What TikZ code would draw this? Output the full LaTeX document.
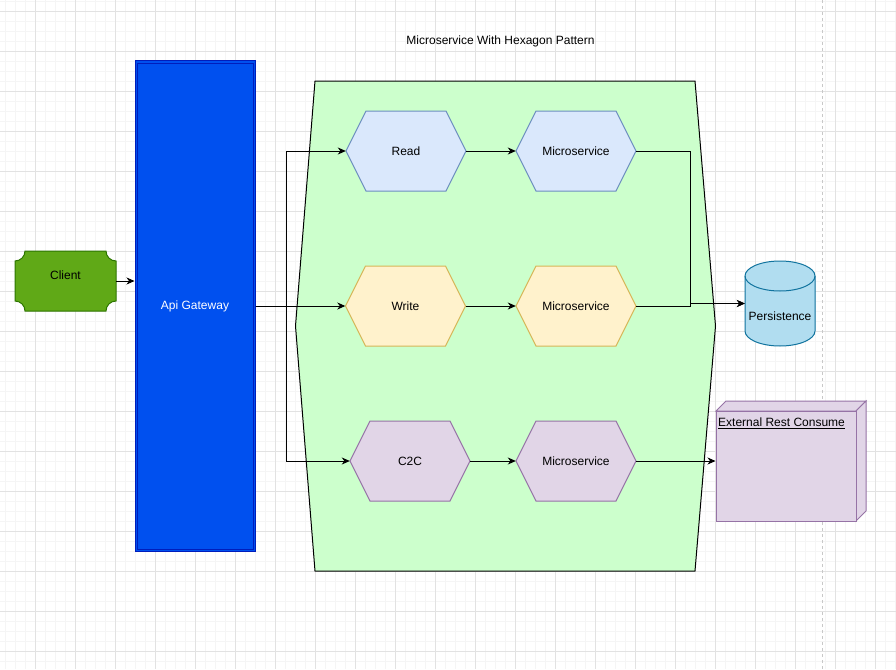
\documentclass[tikz,border=0pt]{standalone}
\usepackage{fontspec}
\setmainfont{Liberation Sans}
\usetikzlibrary{arrows.meta}
\definecolor{gridminor}{HTML}{F5F5F5}
\definecolor{gridmajor}{HTML}{E2E2E2}
\definecolor{pageline}{HTML}{C8C8C8}
\definecolor{clientfill}{HTML}{60A917}
\definecolor{clientdraw}{HTML}{2D7600}
\definecolor{apifill}{HTML}{0050EF}
\definecolor{apidraw}{HTML}{001DBC}
\definecolor{hexfill}{HTML}{CCFFCC}
\definecolor{bluefill}{HTML}{DAE8FC}
\definecolor{bluedraw}{HTML}{6C8EBF}
\definecolor{yellowfill}{HTML}{FFF2CC}
\definecolor{yellowdraw}{HTML}{D6B656}
\definecolor{purplefill}{HTML}{E1D5E7}
\definecolor{purpledraw}{HTML}{9673A6}
\definecolor{persfill}{HTML}{B1DDF0}
\definecolor{persdraw}{HTML}{10739E}
\newcommand\hexnode[6]{%
  \filldraw[fill=#4,draw=#5,line width=1pt] ({#2-60},#3) -- ({#2-40},{#3-40}) -- ({#2+40},{#3-40}) -- ({#2+60},#3) -- ({#2+40},{#3+40}) -- ({#2-40},{#3+40}) -- cycle;
  \node[hexbox] (#1) at (#2,#3) {#6};}
\begin{document}
\begin{tikzpicture}[x=1pt,y=-1pt,
  every node/.style={font=\fontsize{12}{14}\selectfont},
  minorline/.style={draw=gridminor,line width=1pt},
  majorline/.style={draw=gridmajor,line width=1pt},
  hexbox/.style={inner sep=0pt,minimum width=120pt,minimum height=80pt},
  conn/.style={draw=black,line width=1pt,-{Stealth[length=8pt,width=7pt,inset=2.5pt]}},
  plain/.style={draw=black,line width=1pt}]
\useasboundingbox (0,0) rectangle (896,669);
\fill[white] (0,0) rectangle (896,669);
% grid
\foreach \gx in {5.3,15.3,...,895.3} \draw[minorline] (\gx,0) -- (\gx,669);
\foreach \gy in {1.7,11.7,...,668} \draw[minorline] (0,\gy) -- (896,\gy);
\foreach \gx in {35.3,75.3,...,895.3} \draw[majorline] (\gx,0) -- (\gx,669);
\foreach \gy in {11.7,51.7,...,668} \draw[majorline] (0,\gy) -- (896,\gy);
\draw[pageline,line width=1pt,dash pattern=on 3pt off 3pt] (822,0) -- (822,669);

% title
\node (title) at (500.5,41) {Microservice With Hexagon Pattern};

% client plaque
\filldraw[fill=clientfill,draw=clientdraw,line width=1pt]
  (25,251) -- (106,251) arc[start angle=180,end angle=90,radius=10]
  -- (116,301) arc[start angle=270,end angle=180,radius=10]
  -- (25,311) arc[start angle=0,end angle=-90,radius=10]
  -- (15,261) arc[start angle=90,end angle=0,radius=10] -- cycle;
\node[inner sep=0pt,minimum width=101pt,minimum height=60pt,text depth=12pt] (client) at (65.5,281) {Client};

% api gateway
\node[fill=apifill,draw=apidraw,line width=1pt,inner sep=0pt,minimum width=120pt,minimum height=490pt,text=white] (api) at (195,306) {Api Gateway};
\draw[apidraw,line width=0.8pt] ([shift={(2.5pt,-2.5pt)}]api.north west) rectangle ([shift={(-2.5pt,2.5pt)}]api.south east);

% big hexagon
\filldraw[fill=hexfill,draw=black,line width=1pt]
  (315,81) -- (695,81) -- (715.5,326) -- (695,571) -- (315,571) -- (295.5,326) -- cycle;

% hexagons
\hexnode{read}{406}{151}{bluefill}{bluedraw}{Read}
\hexnode{ms1}{576}{151}{bluefill}{bluedraw}{Microservice}
\hexnode{write}{405.5}{306}{yellowfill}{yellowdraw}{Write}
\hexnode{ms2}{576}{306}{yellowfill}{yellowdraw}{Microservice}
\hexnode{c2c}{410}{461}{purplefill}{purpledraw}{C2C}
\hexnode{ms3}{576}{461}{purplefill}{purpledraw}{Microservice}

% persistence cylinder
\filldraw[fill=persfill,draw=persdraw,line width=1pt]
  (745,276) -- (745,331) arc[start angle=180,end angle=0,x radius=35,y radius=15]
  -- (815,276) arc[start angle=0,end angle=-180,x radius=35,y radius=15] -- cycle;
\draw[persdraw,line width=1pt] (745,276) arc[start angle=180,end angle=0,x radius=35,y radius=15];
\node[inner sep=0pt,minimum width=70pt,minimum height=85pt,text height=34.5pt] (pers) at (780,303.5) {Persistence};

% external rest consume (3D box)
\filldraw[fill=purplefill,draw=purpledraw,line width=1pt] (716,411) -- (726,401) -- (866,401) -- (856,411) -- cycle;
\filldraw[fill=purplefill,draw=purpledraw,line width=1pt] (856,411) -- (866,401) -- (866,511) -- (856,521) -- cycle;
\node[fill=purplefill,draw=purpledraw,line width=1pt,inner sep=0pt,minimum width=140pt,minimum height=110pt,
  label={[anchor=north west,inner sep=0pt,xshift=2.5pt,yshift=-7.5pt]north west:\underline{External Rest Consume}}] (ext) at (786,466) {};

% connectors
\draw[conn] (client.east) -- (client.east -| api.west);
\coordinate (br) at (286,306);
\draw[conn] (api.east) -- (write.west);
\draw[conn] (api.east) -- (br) |- (read.west);
\draw[conn] (api.east) -- (br) |- (c2c.west);
\draw[conn] (read.east) -- (ms1.west);
\draw[conn] (write.east) -- (ms2.west);
\draw[conn] (c2c.east) -- (ms3.west);
\coordinate (jn) at (690,303.5);
\draw[conn] (ms1.east) -| (jn) -- (pers.west);
\draw[conn] (ms2.east) -| (jn) -- (pers.west);
\draw[conn] (ms3.east) -- (ms3.east -| ext.west);
\end{tikzpicture}
\end{document}
